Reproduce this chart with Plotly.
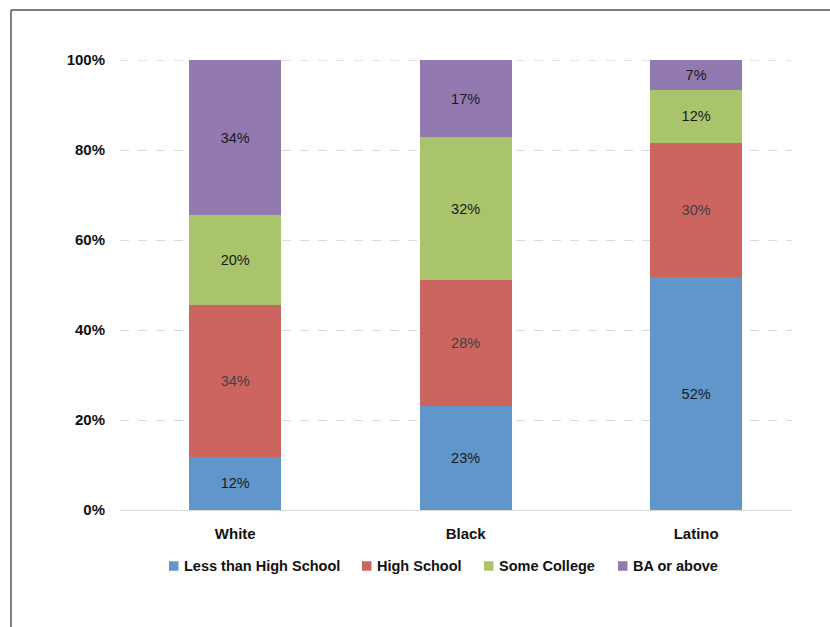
import plotly.graph_objects as go

categories = ["White", "Black", "Latino"]
series_names = ["Less than High School", "High School", "Some College", "BA or above"]
less_than_hs = [11.8, 23.1, 51.8]
high_school = [33.8, 28.0, 29.8]
some_college = [20.0, 31.8, 11.8]
ba_or_above = [34.4, 17.1, 6.6]
y_tick_vals = [0, 20, 40, 60, 80, 100]
y_tick_text = ["0%", "20%", "40%", "60%", "80%", "100%"]

colors = ["#6196CA", "#CC6560", "#A9C46B", "#9279AF"]
text_colors = ["#1a1a1a", "#404040", "#1a1a1a", "#1a1a1a"]
font_family = "Liberation Sans, Arial, sans-serif"

W, H = 830, 627
L, R, T, B = 120, 38, 60, 117
pw, ph = W - L - R, H - T - B


def px2x(px):
    return (px - L) / pw


def py2y(py):
    return (H - B - py) / ph


fig = go.Figure()
for name, vals, col, tcol in zip(series_names,
                                 [less_than_hs, high_school, some_college, ba_or_above],
                                 colors, text_colors):
    fig.add_trace(go.Bar(
        name=name, x=categories, y=vals,
        marker=dict(color=col, line=dict(width=0)),
        width=0.4,
        text=[f"{round(v)}%" for v in vals],
        textposition="inside", insidetextanchor="middle",
        textfont=dict(family=font_family, size=14.5, color=tcol),
        hoverinfo="skip",
        showlegend=False,
    ))

fig.update_layout(
    barmode="stack",
    width=W, height=H,
    margin=dict(l=L, r=R, t=T, b=B),
    paper_bgcolor="white", plot_bgcolor="white",
    font=dict(family=font_family, size=15, color="#111111"),
    xaxis=dict(
        range=[-0.5, 2.416], showgrid=False, showline=True,
        linecolor="#d9d9d9", linewidth=1, ticks="", ticklabelstandoff=10,
        tickfont=dict(family=font_family, size=15, color="#111111", weight="bold"),
        fixedrange=True,
    ),
    yaxis=dict(
        range=[0, 100.05], tickvals=y_tick_vals, ticktext=y_tick_text,
        showgrid=True, gridcolor="#d9d9d9", griddash="dash", gridwidth=1,
        zeroline=False, showline=False, ticks="", ticklabelstandoff=14,
        tickfont=dict(family=font_family, size=15, color="#111111", weight="bold"),
        fixedrange=True,
    ),
    showlegend=False,
)

# Top gridline at 100% (plotly omits gridlines on the plot edge)
fig.add_shape(type="line", xref="paper", yref="y", layer="below",
              x0=0, x1=1, y0=y_tick_vals[-1], y1=y_tick_vals[-1],
              line=dict(color="#d9d9d9", width=1, dash="dash"))

# Legend drawn as squares + labels
legend_square_px = [169, 362, 484, 618]
legend_y_px = 566
for name, col, sx in zip(series_names, colors, legend_square_px):
    fig.add_shape(type="rect", xref="paper", yref="paper",
                  x0=px2x(sx), x1=px2x(sx + 9.5),
                  y0=py2y(legend_y_px + 4.75), y1=py2y(legend_y_px - 4.75),
                  fillcolor=col, line=dict(width=0))
    fig.add_annotation(xref="paper", yref="paper",
                       x=px2x(sx + 13), y=py2y(legend_y_px),
                       xanchor="left", yanchor="middle", showarrow=False,
                       text=name,
                       font=dict(family=font_family, size=14.5, color="#111111", weight="bold"))

# Outer frame (top and left edges of the original bordered chart)
fig.add_shape(type="line", xref="paper", yref="paper",
              x0=px2x(11), x1=px2x(831), y0=py2y(10), y1=py2y(10),
              line=dict(color="#555555", width=1.5))
fig.add_shape(type="line", xref="paper", yref="paper",
              x0=px2x(11), x1=px2x(11), y0=py2y(10), y1=py2y(628),
              line=dict(color="#555555", width=1.5))

fig.write_html("out.html")
